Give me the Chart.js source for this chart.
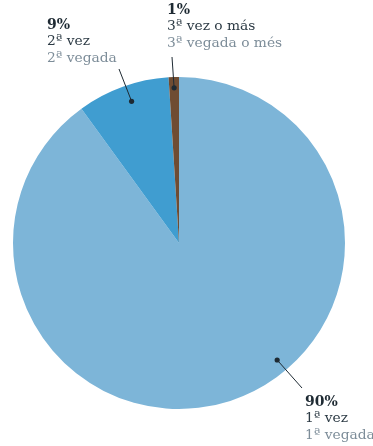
<!DOCTYPE html>
<html>
<head>
<meta charset="utf-8">
<script src="https://cdn.jsdelivr.net/npm/chart.js@4/dist/chart.umd.min.js"></script>
<style>
  html, body { margin: 0; padding: 0; background: #fff; }
  #wrap { width: 373px; height: 446px; position: relative; }
</style>
</head>
<body>
<div id="wrap"><canvas id="pie"></canvas></div>
<script>
// datos
const categories = ['1ª vez', '2ª vez', '3ª vez o más'];
const categoriesCa = ['1ª vegada', '2ª vegada', '3ª vegada o més'];
const values = [90, 9, 1];
const colors = ['#7db5d8', '#409dd0', '#6f4c32'];

// donde va cada etiqueta (angulo del punto en grados desde arriba, radio relativo, texto)
const labelAngle = [140, 341.5, 358.2];
const labelRadius = [0.92, 0.9, 0.935];
const labelText = [
    { x: 305, y: 402, ex: 302, ey: 388 },
    { x: 47, y: 25, ex: 119, ey: 69 },
    { x: 167, y: 10, ex: 172, ey: 57 }
];

const serif = '"DejaVu Serif", serif';

const calloutPlugin = {
    id: 'callouts',
    afterDatasetsDraw(chart) {
        const ctx = chart.ctx;
        const arc = chart.getDatasetMeta(0).data[0];
        const cx = arc.x, cy = arc.y, r = arc.outerRadius;
        values.forEach((v, i) => {
            const a = labelAngle[i] * Math.PI / 180;
            const px = cx + Math.sin(a) * r * labelRadius[i];
            const py = cy - Math.cos(a) * r * labelRadius[i];
            const t = labelText[i];
            ctx.save();
            ctx.strokeStyle = '#1e2a33';
            ctx.lineWidth = 1;
            ctx.beginPath();
            ctx.moveTo(px, py);
            ctx.lineTo(t.ex, t.ey);
            ctx.stroke();
            ctx.fillStyle = '#1e2a33';
            ctx.beginPath();
            ctx.arc(px, py, 2.6, 0, Math.PI * 2);
            ctx.fill();

            ctx.textBaseline = 'middle';
            ctx.textAlign = 'left';
            ctx.font = 'bold 14px ' + serif;
            ctx.fillStyle = '#1e2a33';
            ctx.fillText(v + '%', t.x, t.y);
            ctx.font = '13.8px ' + serif;
            ctx.fillStyle = '#2c3a44';
            ctx.fillText(categories[i], t.x, t.y + 16.5);
            ctx.fillStyle = '#7d8d99';
            ctx.fillText(categoriesCa[i], t.x, t.y + 33);
            ctx.restore();
        });
    }
};

new Chart(document.getElementById('pie'), {
    type: 'pie',
    data: {
        labels: categories,
        datasets: [{
            data: values,
            backgroundColor: colors,
            borderWidth: 0
        }]
    },
    options: {
        responsive: true,
        maintainAspectRatio: false,
        animation: false,
        layout: { padding: { left: 13, right: 28, top: 77, bottom: 37 } },
        plugins: {
            legend: { display: false },
            tooltip: { enabled: false }
        }
    },
    plugins: [calloutPlugin]
});
</script>
</body>
</html>
